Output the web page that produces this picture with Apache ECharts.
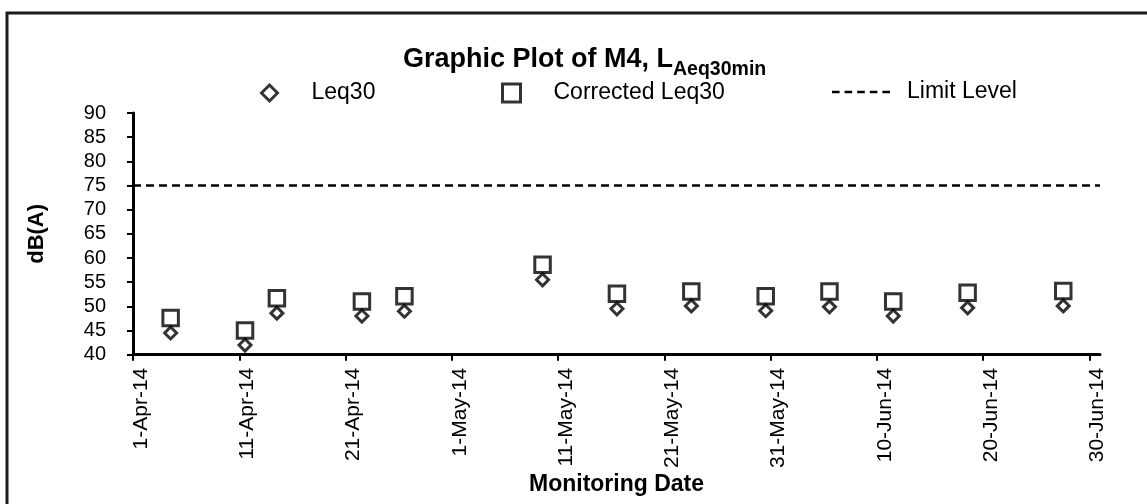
<!DOCTYPE html>
<html><head><meta charset="utf-8">
<script src="https://cdn.jsdelivr.net/npm/echarts@6/dist/echarts.min.js"></script>
<style>html,body{margin:0;padding:0;background:#fff}#c{width:1147px;height:504px}</style>
</head><body><div id="c"></div>
<script>
// ---- data ----
const sampleTimes = ['2014-04-04 13:00','2014-04-11 13:00','2014-04-14 13:00','2014-04-22 13:00','2014-04-26 13:00',
  '2014-05-09 13:00','2014-05-16 13:00','2014-05-23 13:00','2014-05-30 13:00','2014-06-05 13:00',
  '2014-06-11 13:00','2014-06-18 13:00','2014-06-27 13:00'];
const leq30 = [44.5, 42.0, 48.6, 48.0, 49.0, 55.5, 49.5, 50.1, 49.1, 49.9, 48.0, 49.7, 50.1];
const correctedLeq30 = [47.6, 45.0, 51.7, 51.0, 52.1, 58.6, 52.6, 53.1, 52.1, 53.1, 51.0, 52.8, 53.2];
const limitTimes = ['2014-04-01 00:00','2014-07-01 00:00'];
const limitLevel = [75, 75];
const tickDates = ['2014-04-01','2014-04-11','2014-04-21','2014-05-01','2014-05-11','2014-05-21',
  '2014-05-31','2014-06-10','2014-06-20','2014-06-30'];
const xMinDate = '2014-04-01', xMaxDate = '2014-07-01';

// Excel-style serial day numbers
function toSerial(s){
  const [d,t] = s.split(' ');
  const [y,m,dd] = d.split('-').map(Number);
  let hh=0, mm=0;
  if (t) { [hh,mm] = t.split(':').map(Number); }
  return Date.UTC(y,m-1,dd,hh,mm)/86400000 + 25569;
}
const MON = ['Jan','Feb','Mar','Apr','May','Jun','Jul','Aug','Sep','Oct','Nov','Dec'];
function fmt(v){
  const dt = new Date(Math.round((v-25569)*86400000));
  return dt.getUTCDate()+'-'+MON[dt.getUTCMonth()]+'-'+String(dt.getUTCFullYear()).slice(2);
}
const FONT = 'Liberation Sans';
const tickSerials = tickDates.map(toSerial);
const dashIcon = 'path://M0,0h7.6v2.6h-7.6z M12.6,0h7.6v2.6h-7.6z M25.2,0h7.6v2.6h-7.6z M37.8,0h7.6v2.6h-7.6z M50.4,0h7.6v2.6h-7.6z';
const markerLegendStyle = {color:'rgba(0,0,0,0)',borderColor:'#000',borderWidth:3};

const chart = echarts.init(document.getElementById('c'), null, {renderer:'canvas'});
chart.setOption({
  backgroundColor:'#fff',
  animation:false,
  textStyle:{fontFamily:FONT,color:'#000'},
  title:{
    left:398, top:34,
    text:'{a|Graphic Plot of M4, L}{b|Aeq30min}',
    textStyle:{
      rich:{
        a:{fontFamily:FONT,fontSize:27,fontWeight:'bold',color:'#000',lineHeight:34,verticalAlign:'bottom'},
        b:{fontFamily:FONT,fontSize:19.5,fontWeight:'bold',color:'#000',lineHeight:34,verticalAlign:'bottom',padding:[0,0,-7,0]}
      }
    }
  },
  graphic:[{type:'rect',shape:{x:7,y:13,width:1300,height:700},style:{fill:'none',stroke:'#1a1a1a',lineWidth:3},silent:true}],
  legend:[
    {data:['Leq30'],left:260,top:81.5,padding:0,itemWidth:16,itemHeight:16,itemStyle:markerLegendStyle,
      textStyle:{fontFamily:FONT,fontSize:23,color:'#000',padding:[0,0,0,29]}},
    {data:['Corrected Leq30'],left:501,top:81.5,padding:0,itemWidth:18,itemHeight:18,itemStyle:markerLegendStyle,
      textStyle:{fontFamily:FONT,fontSize:23,color:'#000',padding:[0,0,0,28]}},
    {data:[{name:'Limit Level',icon:dashIcon}],left:832,top:80.5,padding:0,itemWidth:58,itemHeight:2.6,
      itemStyle:{color:'#000',borderWidth:0},lineStyle:{width:0},
      textStyle:{fontFamily:FONT,fontSize:23,color:'#000',padding:[0,0,0,12]}}
  ],
  grid:{left:133,right:47,top:113,bottom:138,containLabel:false},
  xAxis:{
    type:'value', min:toSerial(xMinDate), max:toSerial(xMaxDate),
    name:'Monitoring Date', nameLocation:'middle', nameGap:118,
    nameTextStyle:{fontFamily:FONT,fontSize:23,fontWeight:'bold',color:'#000'},
    axisLine:{show:true,onZero:false,lineStyle:{color:'#000',width:3}},
    axisTick:{show:true,inside:false,length:6,lineStyle:{color:'#000',width:2},customValues:tickSerials},
    axisLabel:{rotate:90,margin:13,fontFamily:FONT,fontSize:21,color:'#000',customValues:tickSerials,formatter:fmt,
      verticalAlign:'top',lineHeight:16},
    splitLine:{show:false}
  },
  yAxis:{
    type:'value', min:40, max:90, interval:5,
    name:'dB(A)', nameLocation:'middle', nameGap:85, nameRotate:90,
    nameTextStyle:{fontFamily:FONT,fontSize:22,fontWeight:'bold',color:'#000'},
    axisLine:{show:true,onZero:false,lineStyle:{color:'#000',width:3}},
    axisTick:{show:true,inside:false,length:6,lineStyle:{color:'#000',width:2}},
    axisLabel:{margin:27,fontFamily:FONT,fontSize:20,color:'#000'},
    splitLine:{show:false}
  },
  series:[
    {name:'Leq30',type:'scatter',symbol:'diamond',symbolSize:12,z:3,
      itemStyle:{color:'rgba(0,0,0,0)',borderColor:'#000',borderWidth:3},
      data:sampleTimes.map((t,i)=>[toSerial(t),leq30[i]])},
    {name:'Corrected Leq30',type:'scatter',symbol:'rect',symbolSize:15.5,z:4,
      itemStyle:{color:'rgba(0,0,0,0)',borderColor:'#000',borderWidth:3},
      data:sampleTimes.map((t,i)=>[toSerial(t),correctedLeq30[i]])},
    {name:'Limit Level',type:'line',symbol:'none',z:2,
      lineStyle:{color:'#000',width:2.5,type:[8,5]},
      itemStyle:{color:'#000'},
      data:limitTimes.map((t,i)=>[toSerial(t),limitLevel[i]])}
  ]
});
</script></body></html>
